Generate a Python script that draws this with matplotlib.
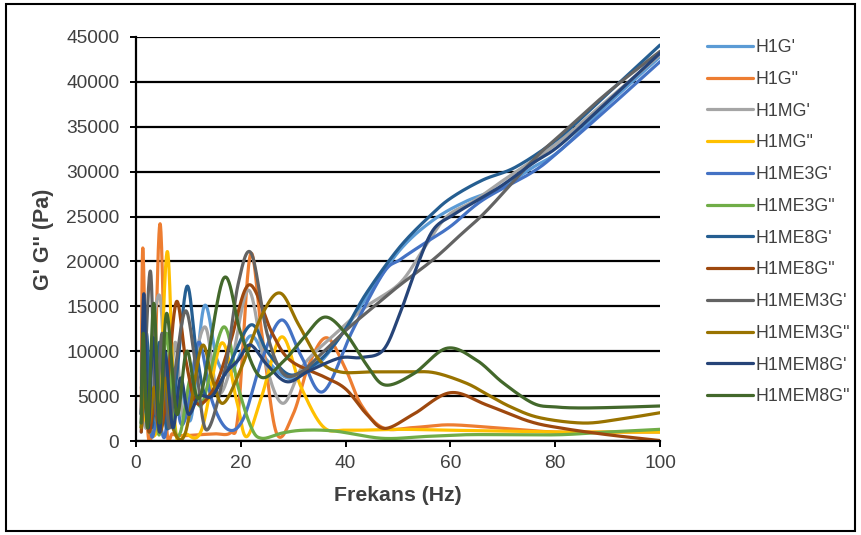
import numpy as np
import matplotlib
matplotlib.use("Agg")
import matplotlib.pyplot as plt
from matplotlib.patches import Rectangle

plt.rcParams['font.family'] = ['Liberation Sans', 'DejaVu Sans']

# values (frequency in Hz, modulus in Pa)
h1g_x = [1, 1.8, 2.7, 3.6, 4.6, 5.6, 7, 8.5, 10.5, 13, 15.5, 18, 21.8, 25, 29, 33, 36, 40, 44, 50.4, 56.7, 63, 69.5, 75.8, 81, 90, 100]
h1g_y = [1500, 9000, 500, 7000, 1500, 9500, 2500, 6000, 2500, 15000, 9000, 7500, 11700, 9000, 7000, 7800, 9300, 12500, 16000, 21300, 24600, 26700, 28200, 30500, 32400, 37500, 42800]

h1g2_x = [1, 1.3, 2.2, 3.3, 4.6, 5.8, 7, 9, 12, 15, 18, 19.5, 21.8, 24, 26.8, 30, 33, 36.4, 40, 43, 47.2, 53, 60, 70, 80, 90, 100]
h1g2_y = [3000, 21500, 1500, 3500, 24200, 2000, 800, 600, 700, 800, 900, 3000, 20700, 12000, 900, 3000, 8500, 11500, 8000, 4000, 1450, 1500, 1800, 1400, 1000, 1000, 1000]

h1mg_x = [1, 2, 3, 4.6, 6, 7.5, 9, 10.5, 13.2, 15.5, 18, 21.4, 24.5, 28, 32, 38.9, 44, 50.4, 55, 59.3, 64.4, 70, 80, 90, 100]
h1mg_y = [6000, 1500, 11000, 16000, 3000, 11000, 2500, 7000, 12700, 5500, 8000, 16800, 9000, 4200, 8500, 12400, 15000, 17600, 21500, 25000, 26700, 29000, 33000, 38000, 43000]

h1mg2_x = [1, 2, 3.3, 4.5, 6, 7.5, 9.5, 12.5, 16.3, 19.2, 21.1, 24, 27.8, 31.5, 35.7, 40, 50, 60, 70, 80, 90, 100]
h1mg2_y = [1500, 3000, 500, 4000, 21100, 1500, 800, 1200, 10900, 4500, 480, 5000, 11600, 6000, 1600, 1200, 1300, 1200, 1100, 1000, 1000, 1000]

h1me3g_x = [1, 2, 3, 4.2, 5.5, 7, 8.5, 10, 12, 14.5, 17.5, 20.5, 24, 27.8, 31.5, 35.7, 41.4, 47.2, 50.4, 55, 60, 66.2, 75.8, 81, 90, 100]
h1me3g_y = [1000, 6500, 500, 3000, 500, 8000, 2000, 4000, 11000, 4500, 1300, 2500, 9000, 13480, 9500, 5500, 12400, 18700, 20200, 22000, 23900, 26850, 30000, 32400, 37000, 42250]

h1me3g2_x = [1, 1.6, 2.5, 3.5, 4.5, 5.8, 7.2, 8.5, 10.5, 12.5, 16.7, 19.5, 22, 24, 28, 32, 38, 47, 55, 63, 72, 81, 90, 100]
h1me3g2_y = [1500, 9500, 1000, 5500, 800, 12000, 2000, 1000, 7200, 4000, 12700, 6000, 1500, 300, 900, 1200, 1100, 300, 500, 700, 700, 700, 1000, 1300]

h1me8g_x = [1, 2, 3, 4.5, 5.8, 7.5, 9.7, 11.5, 13.5, 17, 21.8, 25, 28.8, 32, 36, 40, 44, 50.4, 56.7, 60.5, 66.2, 72.6, 81, 90, 100]
h1me8g_y = [3000, 12000, 1500, 11000, 1500, 6000, 17200, 10000, 4900, 7500, 12900, 10000, 7500, 7800, 9500, 12500, 16500, 21650, 25400, 27220, 29080, 30560, 33900, 38700, 44100]

h1me8g2_x = [1, 1.6, 2.5, 3.5, 4.6, 5.8, 7.7, 9.5, 11.6, 15, 18, 21.6, 26, 29.4, 35.7, 40, 44, 47.5, 53, 60, 67, 75, 81, 90, 100]
h1me8g2_y = [1000, 5000, 1000, 4000, 1000, 5000, 15500, 9000, 4200, 6000, 11000, 17400, 12000, 9000, 7200, 5800, 3000, 1400, 3000, 5380, 4000, 2200, 1450, 700, 50]

h1mem3g_x = [1, 1.8, 2.8, 3.8, 5, 6.3, 7.5, 9.5, 11.5, 13.5, 17, 19.5, 22, 25, 28, 31.3, 35, 40, 44, 50, 56.7, 62, 67, 75.8, 81, 90, 100]
h1mem3g_y = [2000, 10000, 18800, 3000, 12000, 1500, 8000, 14500, 8000, 1230, 8000, 17500, 20900, 12000, 7570, 7600, 9500, 12300, 14300, 17200, 20200, 23000, 25700, 31300, 34100, 38800, 43400]

h1mem3g2_x = [1, 1.7, 2.5, 3.5, 4.6, 5.6, 7, 9.4, 12.5, 14.5, 16.6, 20, 24, 27.5, 31, 35, 38.9, 45, 52, 57, 63, 67, 71.5, 77, 85.3, 92, 100]
h1mem3g2_y = [1500, 8000, 2000, 6000, 1000, 7000, 1500, 860, 10500, 7000, 4200, 8000, 14000, 16480, 13000, 9000, 7700, 7700, 7700, 7600, 6450, 5200, 3800, 2600, 2000, 2400, 3150]

h1mem8g_x = [1, 1.5, 2.3, 3.3, 4.5, 5.5, 7, 8.5, 10, 12, 14.5, 17, 19.5, 21.8, 25, 28.8, 33, 38.9, 43, 47.2, 50.4, 53.6, 56.7, 60.5, 64.4, 69.5, 75.8, 81, 90, 100]
h1mem8g_y = [3000, 16400, 1500, 11500, 1000, 10000, 1500, 7000, 3000, 5000, 5000, 7500, 9000, 10700, 8500, 6600, 7800, 9250, 9300, 10140, 14260, 19420, 23500, 25180, 26550, 28330, 30970, 33000, 37800, 43200]

h1mem8g2_x = [1, 1.4, 2.2, 3.4, 4.5, 5.85, 7.8, 9.7, 12.2, 16.7, 20, 23.7, 28, 32, 36, 40, 44, 47.5, 53, 59.3, 65, 70, 75.8, 80, 84.7, 92, 100]
h1mem8g2_y = [2000, 12000, 1500, 15340, 2000, 14220, 3000, 10000, 4900, 18100, 12000, 7160, 8800, 11500, 13800, 12000, 8500, 6240, 7500, 10330, 9000, 6500, 4200, 3800, 3680, 3750, 3900]

labels = ["H1G'", 'H1G"', "H1MG'", 'H1MG"', "H1ME3G'", 'H1ME3G"',
          "H1ME8G'", 'H1ME8G"', "H1MEM3G'", 'H1MEM3G"', "H1MEM8G'", 'H1MEM8G"']
colors = ['#5B9BD5', '#ED7D31', '#A5A5A5', '#FFC000', '#4472C4', '#70AD47',
          '#255E91', '#9E480E', '#636363', '#997300', '#264478', '#43682B']
series = [(h1g_x, h1g_y), (h1g2_x, h1g2_y), (h1mg_x, h1mg_y), (h1mg2_x, h1mg2_y),
          (h1me3g_x, h1me3g_y), (h1me3g2_x, h1me3g2_y), (h1me8g_x, h1me8g_y),
          (h1me8g2_x, h1me8g2_y), (h1mem3g_x, h1mem3g_y), (h1mem3g2_x, h1mem3g2_y),
          (h1mem8g_x, h1mem8g_y), (h1mem8g2_x, h1mem8g2_y)]

# pixel scale of the plot area, used so the smoothing works like Excel's (in screen space)
SX = 5.24
SY = 1 / 111.4


def smooth_line(xs, ys, n=30):
    # Excel style smoothed line: cubic bezier through points, control = neighbours / 6
    p = np.column_stack([np.asarray(xs, float) * SX, np.asarray(ys, float) * SY])
    p = np.vstack([p[0], p, p[-1]])
    t = np.linspace(0, 1, n, endpoint=False)[:, None]
    parts = []
    for i in range(1, len(p) - 2):
        p0, p1, p2, p3 = p[i - 1], p[i], p[i + 1], p[i + 2]
        c1 = p1 + (p2 - p0) / 6
        c2 = p2 - (p3 - p1) / 6
        parts.append((1 - t) ** 3 * p1 + 3 * (1 - t) ** 2 * t * c1 + 3 * (1 - t) * t ** 2 * c2 + t ** 3 * p2)
    parts.append(p[-2][None])
    pts = np.vstack(parts)
    return pts[:, 0] / SX, pts[:, 1] / SY


fig = plt.figure(figsize=(8.61, 5.35), dpi=100)
ax = fig.add_axes([136 / 861, 1 - 441 / 535, 524 / 861, 404 / 535])

for (xs, ys), c, lab in zip(series, colors, labels):
    sx, sy = smooth_line(xs, ys)
    ax.plot(sx, sy, color=c, lw=2.3, label=lab, solid_capstyle='round')

ax.set_xlim(0, 100)
ax.set_ylim(0, 45000)
ax.set_xticks(range(0, 101, 20))
ax.set_yticks(range(0, 45001, 5000))
ax.yaxis.grid(True, color='black', lw=1.6)
ax.set_axisbelow(True)
for s in ['top', 'right']:
    ax.spines[s].set_visible(False)
ax.spines['left'].set_linewidth(1.6)
ax.spines['bottom'].set_linewidth(1.6)
ax.tick_params(axis='y', length=4, width=1.4, labelsize=13.8, colors='black', pad=8)
ax.tick_params(axis='x', length=4, width=1.4, labelsize=13.8, colors='black', pad=6)
for lbl in ax.get_xticklabels() + ax.get_yticklabels():
    lbl.set_color('#404040')

ax.set_xlabel('Frekans (Hz)', fontsize=15.3, fontweight='bold', color='#404040', labelpad=10)
ax.set_ylabel("G' G'' (Pa)", fontsize=15.5, fontweight='bold', color='#404040', labelpad=9)

ax.legend(loc='upper left', bbox_to_anchor=(691 / 861, 1 - 23 / 535), bbox_transform=fig.transFigure,
          frameon=False, fontsize=12.8, handlelength=2.6, handletextpad=0.15, labelspacing=0.83,
          labelcolor='#404040')

fig.patches.append(Rectangle((6 / 861, 4 / 535), 849 / 861, 527 / 535, transform=fig.transFigure,
                             fill=False, edgecolor='black', lw=1.5))

fig.savefig('out.png', dpi=100)
